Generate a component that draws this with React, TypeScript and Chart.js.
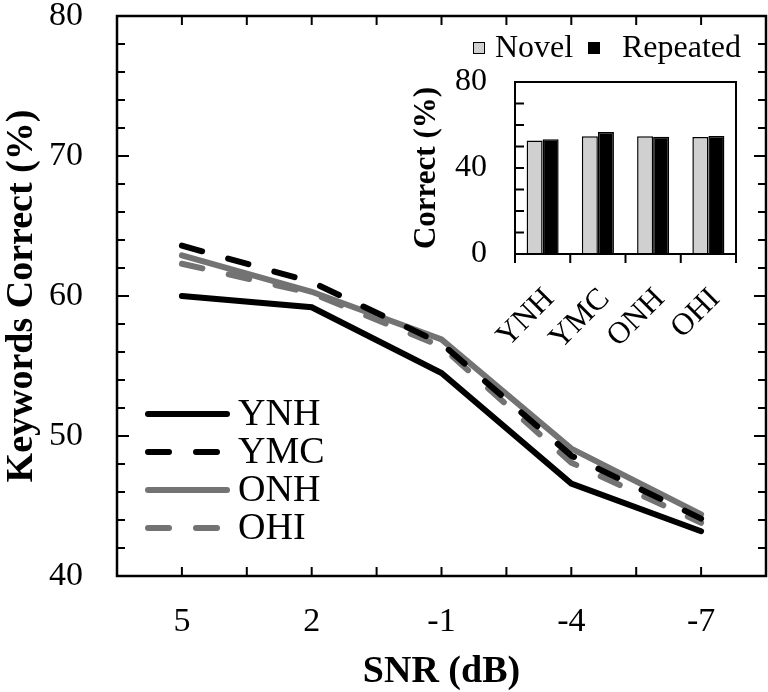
import React, { useEffect, useRef } from 'react';
import { Chart, registerables } from 'chart.js';

Chart.register(...registerables);

// ---- Main chart data ----
const snrLevels = [5, 2, -1, -4, -7];
const ynh = [60.0, 59.2, 54.5, 46.6, 43.2];
const ymc = [63.6, 61.0, 56.6, 48.6, 44.1];
const onh = [62.9, 60.3, 56.9, 49.1, 44.4];
const ohi = [62.3, 60.2, 56.4, 48.1, 43.8];
const mainYTicks = [40, 50, 60, 70, 80];

// ---- Inset chart data ----
const groups = ['YNH', 'YMC', 'ONH', 'OHI'];
const novel = [52.8, 54.8, 54.8, 54.4];
const repeated = [53.4, 56.8, 54.5, 54.9];
const insetYTicks = [0, 40, 80];

const FONT = "'Liberation Serif', 'Times New Roman', Times, serif";
const GRAY = '#737373';

function seg(ctx: CanvasRenderingContext2D, x1: number, y1: number, x2: number, y2: number) {
  ctx.beginPath();
  ctx.moveTo(x1, y1);
  ctx.lineTo(x2, y2);
  ctx.stroke();
}

function noPad(s: any) {
  s.paddingTop = 0;
  s.paddingBottom = 0;
  s.paddingLeft = 0;
  s.paddingRight = 0;
}

const mainFramePlugin = {
  id: 'mainFrame',
  afterDraw(chart: any) {
    const { ctx, chartArea: a, scales } = chart;
    const xs = scales.x;
    const ys = scales.y;
    ctx.save();
    ctx.strokeStyle = '#000';
    ctx.lineCap = 'butt';
    ctx.lineWidth = 2.5;
    ctx.strokeRect(a.left, a.top, a.right - a.left, a.bottom - a.top);
    ctx.lineWidth = 2;
    const yMin = mainYTicks[0];
    const yMax = mainYTicks[mainYTicks.length - 1];
    for (let v = yMin + 2; v < yMax; v += 2) {
      const py = ys.getPixelForValue(v);
      const len = v % 10 === 0 ? 12 : 8;
      seg(ctx, a.left, py, a.left + len, py);
      seg(ctx, a.right, py, a.right - len, py);
    }
    const xVals: number[] = [];
    snrLevels.forEach((v, i) => {
      xVals.push(v);
      if (i < snrLevels.length - 1) xVals.push((v + snrLevels[i + 1]) / 2);
    });
    xVals.forEach((v) => {
      const px = xs.getPixelForValue(v);
      seg(ctx, px, a.bottom, px, a.bottom - 9);
      seg(ctx, px, a.top, px, a.top + 9);
    });
    // legend
    const datasets = chart.data.datasets;
    ctx.font = `38px ${FONT}`;
    ctx.textBaseline = 'middle';
    ctx.textAlign = 'left';
    datasets.forEach((ds: any, i: number) => {
      const y = 414 + i * 38;
      ctx.save();
      ctx.strokeStyle = ds.borderColor;
      ctx.lineWidth = ds.borderWidth;
      ctx.lineCap = 'round';
      ctx.setLineDash(ds.borderDash || []);
      seg(ctx, 148, y, 227, y);
      ctx.restore();
      ctx.fillStyle = '#000';
      ctx.fillText(ds.label, 238, y + 1);
    });
    ctx.restore();
  },
};

const insetFramePlugin = {
  id: 'insetFrame',
  afterDraw(chart: any) {
    const { ctx, chartArea: a, scales } = chart;
    const xs = scales.x;
    const ys = scales.y;
    ctx.save();
    ctx.strokeStyle = '#000';
    ctx.lineWidth = 2;
    ctx.strokeRect(a.left, a.top, a.right - a.left, a.bottom - a.top);
    for (let v = 10; v < insetYTicks[insetYTicks.length - 1]; v += 10) {
      const py = ys.getPixelForValue(v);
      seg(ctx, a.left, py, a.left + 9, py);
    }
    for (let i = 0; i <= groups.length; i++) {
      const px = xs.getPixelForValue(i - 0.5);
      seg(ctx, px, a.bottom, px, a.bottom + 9);
    }
    // legend
    const ds = chart.data.datasets;
    ctx.font = `32px ${FONT}`;
    ctx.textBaseline = 'middle';
    ctx.textAlign = 'left';
    const boxes = [
      { bx: 73, tx: 95 },
      { bx: 188, tx: 222 },
    ];
    ds.forEach((d: any, i: number) => {
      const p = boxes[i];
      ctx.fillStyle = d.backgroundColor;
      ctx.fillRect(p.bx, 22, 12, 12);
      ctx.lineWidth = 1;
      ctx.strokeStyle = '#000';
      ctx.strokeRect(p.bx + 0.5, 22.5, 11, 11);
      ctx.fillStyle = '#000';
      ctx.fillText(d.label, p.tx, 29);
    });
    ctx.restore();
  },
};

export default function App() {
  const mainRef = useRef<HTMLCanvasElement>(null);
  const insetRef = useRef<HTMLCanvasElement>(null);

  useEffect(() => {
    Chart.defaults.color = '#000';
    const lineSeries = [
      { label: 'YNH', values: ynh, color: '#000', dash: [] as number[] },
      { label: 'YMC', values: ymc, color: '#000', dash: [21, 27] },
      { label: 'ONH', values: onh, color: GRAY, dash: [] as number[] },
      { label: 'OHI', values: ohi, color: GRAY, dash: [21, 27] },
    ];
    const main = new Chart(mainRef.current as HTMLCanvasElement, {
      type: 'line',
      data: {
        datasets: lineSeries.map((s) => ({
          label: s.label,
          data: snrLevels.map((x, i) => ({ x, y: s.values[i] })),
          borderColor: s.color,
          backgroundColor: s.color,
          borderWidth: 6,
          borderDash: s.dash,
          borderCapStyle: 'round',
          borderJoinStyle: 'miter',
          pointRadius: 0,
          tension: 0,
          fill: false,
        })),
      } as any,
      options: {
        responsive: false,
        animation: false,
        layout: { padding: { top: 16, right: 2, left: 0, bottom: 0 } },
        plugins: { legend: { display: false }, tooltip: { enabled: false } },
        scales: {
          x: {
            type: 'linear',
            reverse: true,
            min: -8.5,
            max: 6.5,
            afterBuildTicks: (s: any) => {
              s.ticks = snrLevels.map((v) => ({ value: v }));
            },
            afterFit: (s: any) => {
              s.height = 116;
              noPad(s);
            },
            grid: { display: false, drawTicks: false },
            border: { display: false },
            ticks: {
              font: { family: FONT, size: 34 },
              padding: 26,
              maxRotation: 0,
              autoSkip: false,
              callback: (v: any) => String(v),
            },
            title: {
              display: true,
              text: 'SNR (dB)',
              font: { family: FONT, size: 38, weight: 'bold', lineHeight: 1 },
              padding: { top: 0, bottom: 1 },
            },
          },
          y: {
            type: 'linear',
            min: mainYTicks[0],
            max: mainYTicks[mainYTicks.length - 1],
            afterBuildTicks: (s: any) => {
              s.ticks = mainYTicks.map((v) => ({ value: v }));
            },
            afterFit: (s: any) => {
              s.width = 117;
              noPad(s);
            },
            grid: { display: false, drawTicks: false },
            border: { display: false },
            ticks: {
              font: { family: FONT, size: 34 },
              padding: 34,
              callback: (v: any) => String(v),
            },
            title: {
              display: true,
              text: 'Keywords Correct (%)',
              font: { family: FONT, size: 38, weight: 'bold', lineHeight: 1 },
              padding: { top: 3, bottom: 0 },
            },
          },
        },
      } as any,
      plugins: [mainFramePlugin],
    });

    const inset = new Chart(insetRef.current as HTMLCanvasElement, {
      type: 'bar',
      data: {
        labels: groups,
        datasets: [
          {
            label: 'Novel',
            data: novel,
            backgroundColor: '#d0d0d0',
            borderColor: '#000',
            borderWidth: 1.5,
            categoryPercentage: 0.58,
            barPercentage: 1,
          },
          {
            label: 'Repeated',
            data: repeated,
            backgroundColor: '#000',
            borderColor: '#000',
            borderWidth: 1.5,
            categoryPercentage: 0.58,
            barPercentage: 1,
          },
        ],
      } as any,
      options: {
        responsive: false,
        animation: false,
        layout: { padding: { top: 62, right: 32, left: 0, bottom: 0 } },
        plugins: { legend: { display: false }, tooltip: { enabled: false } },
        scales: {
          x: {
            afterFit: (s: any) => {
              s.height = 96;
              noPad(s);
            },
            grid: { display: false, drawTicks: false },
            border: { display: false },
            ticks: {
              font: { family: FONT, size: 31 },
              minRotation: 45,
              maxRotation: 45,
              padding: 27,
              labelOffset: 7,
              autoSkip: false,
            },
          },
          y: {
            min: insetYTicks[0],
            max: insetYTicks[insetYTicks.length - 1],
            afterBuildTicks: (s: any) => {
              s.ticks = insetYTicks.map((v) => ({ value: v }));
            },
            afterFit: (s: any) => {
              s.width = 115;
              noPad(s);
            },
            grid: { display: false, drawTicks: false },
            border: { display: false },
            ticks: {
              font: { family: FONT, size: 32 },
              padding: 28,
              callback: (v: any) => String(v),
            },
            title: {
              display: true,
              text: 'Correct (%)',
              font: { family: FONT, size: 31, weight: 'bold', lineHeight: 1 },
              padding: { top: 11, bottom: 0 },
            },
          },
        },
      } as any,
      plugins: [insetFramePlugin],
    });

    return () => {
      main.destroy();
      inset.destroy();
    };
  }, []);

  return (
    <div style={{ position: 'absolute', left: 0, top: 0, width: 768, height: 692, background: '#fff' }}>
      <canvas
        ref={mainRef}
        width={768}
        height={692}
        style={{ position: 'absolute', left: 0, top: 0, width: 768, height: 692 }}
      />
      <canvas
        ref={insetRef}
        width={368}
        height={330}
        style={{ position: 'absolute', left: 400, top: 20, width: 368, height: 330 }}
      />
    </div>
  );
}
